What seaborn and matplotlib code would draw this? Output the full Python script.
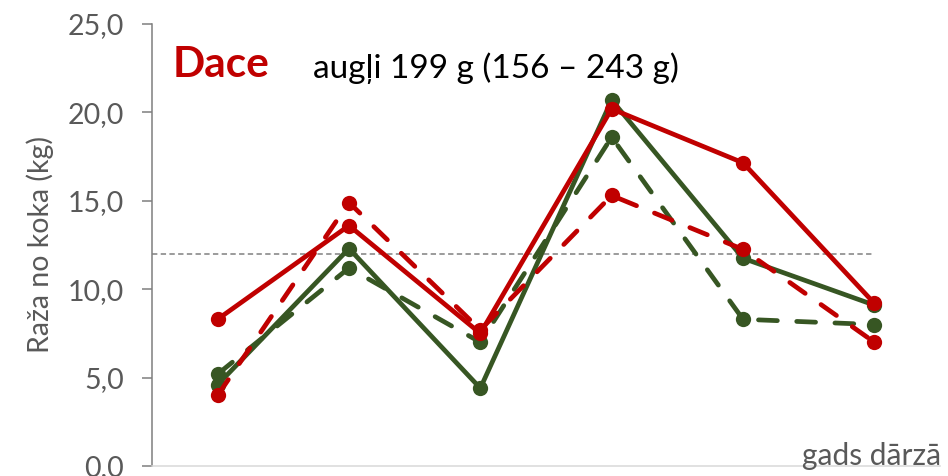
import matplotlib
matplotlib.use("Agg")
import matplotlib.pyplot as plt
import seaborn as sns
import pandas as pd
from matplotlib.ticker import FuncFormatter

# ---- data ----
years = [1, 2, 3, 4, 5, 6]
red_solid = [8.3, 13.6, 7.5, 20.2, 17.15, 9.2]
red_dashed = [4.0, 14.9, 7.7, 15.3, 12.25, 7.0]
green_solid = [4.6, 12.3, 4.4, 20.7, 11.75, 9.1]
green_dashed = [5.2, 11.2, 7.0, 18.6, 8.3, 8.0]
reference_level = 12.0
y_ticks = [0, 5, 10, 15, 20, 25]

title_main = "Dace"
title_sub = "augļi 199 g (156 – 243 g)"
y_label = "Raža no koka (kg)"
x_label = "gads dārzā"

RED = "#C00000"
GREEN = "#375623"

sns.set_style("white")
plt.rcParams["font.family"] = ["Lato", "DejaVu Sans"]

fig = plt.figure(figsize=(9.48, 4.76), dpi=100)
ax = fig.add_axes([152 / 948, 1 - 466 / 476, (940 - 152) / 948, (466 - 24) / 476])

series = [
    ("green_solid", green_solid, GREEN, "-"),
    ("green_dashed", green_dashed, GREEN, (0, (4, 4.1))),
    ("red_dashed", red_dashed, RED, (0, (4, 4.1))),
    ("red_solid", red_solid, RED, "-"),
]

for name, vals, col, ls in series:
    df = pd.DataFrame({"year": years, "yield": vals})
    sns.lineplot(data=df, x="year", y="yield", ax=ax, color=col, linestyle=ls,
                 linewidth=3.4, marker="o", markersize=11,
                 markeredgewidth=0, markeredgecolor=col,
                 dash_capstyle="round", solid_capstyle="round", clip_on=False)

ax.hlines(reference_level, 0.5, 6, colors="#808080", linestyles=(0, (3.5, 2.2)),
          linewidth=1.1, zorder=1)

ax.set_xlim(0.5, 6.5)
ax.set_ylim(0, 25)
ax.set_yticks(y_ticks)
ax.yaxis.set_major_formatter(FuncFormatter(lambda v, p: f"{v:.1f}".replace(".", ",")))
ax.set_xticks([])
ax.set_xlabel("")
ax.set_ylabel(y_label, fontsize=20.5, color="#595959", labelpad=10)

ax.tick_params(axis="y", which="major", length=7.2, width=1.1, color="#7f7f7f",
               labelsize=20.5, labelcolor="#595959", pad=13, left=True, direction="out")

for s in ["top", "right"]:
    ax.spines[s].set_visible(False)
ax.spines["left"].set_color("#7f7f7f")
ax.spines["left"].set_linewidth(1.1)
ax.spines["bottom"].set_color("#d9d9d9")
ax.spines["bottom"].set_linewidth(1.1)

fig.text(173 / 948, 1 - 77 / 476, title_main, color=RED, fontsize=30.5,
         fontweight="bold", ha="left", va="baseline")
fig.text(313 / 948, 1 - 78 / 476, title_sub, color="black", fontsize=24,
         ha="left", va="baseline")
fig.text(941 / 948, 1 - 465 / 476, x_label, color="#595959", fontsize=21.5,
         ha="right", va="baseline")

fig.savefig("out.png", dpi=100)
